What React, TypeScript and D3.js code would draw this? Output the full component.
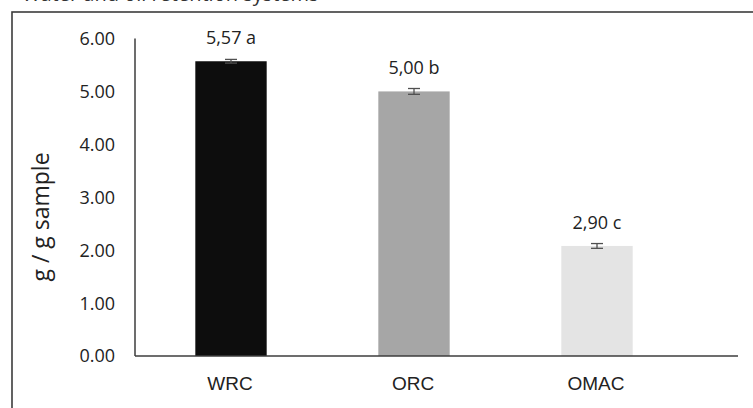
import { useEffect, useRef } from "react";
import * as d3 from "d3";

// values
const categories = ["WRC", "ORC", "OMAC"];
const means = [5.57, 5.0, 2.08];
const errors = [0.035, 0.055, 0.045];
const valueLabels = ["5,57 a", "5,00 b", "2,90 c"];
const barColors = ["#0d0d0d", "#a6a6a6", "#e4e4e4"];
const yTicks = [0, 1, 2, 3, 4, 5, 6];

const W = 753;
const H = 408;

export default function App() {
  const ref = useRef<SVGSVGElement>(null);

  useEffect(() => {
    const svg = d3.select(ref.current);
    if (!svg.node()) return;
    svg.selectAll("*").remove();

    const font = "'Open Sans', 'Noto Sans', sans-serif";
    const axisLeft = 135;
    const axisRight = 738;
    const y0 = 356;
    const yTop = 38.5;

    // frame (only top and left edges are in view)
    svg
      .append("rect")
      .attr("x", 12)
      .attr("y", 12)
      .attr("width", W + 40)
      .attr("height", H + 40)
      .attr("fill", "none")
      .attr("stroke", "#3c3c3c")
      .attr("stroke-width", 1.6);

    // title cut off at the top edge, as in the source image
    svg
      .append("text")
      .attr("x", 22)
      .attr("y", 1)
      .attr("font-family", font)
      .attr("font-size", 20)
      .attr("fill", "#333")
      .text("Water and oil retention systems");

    const x = d3
      .scaleBand<string>()
      .domain(categories)
      .range([139.5, 139.5 + 3 * 183])
      .paddingInner(0.61)
      .paddingOuter(0.305);

    const y = d3.scaleLinear().domain([0, 6]).range([y0, yTop]);

    // y tick labels
    svg
      .append("g")
      .selectAll("text")
      .data(yTicks)
      .join("text")
      .attr("x", 115)
      .attr("y", (d) => y(d))
      .attr("dy", "0.36em")
      .attr("text-anchor", "end")
      .attr("font-family", font)
      .attr("font-size", 18)
      .attr("fill", "#222")
      .text((d) => d3.format(".2f")(d));

    // y axis title
    svg
      .append("text")
      .attr("transform", `translate(49,217) rotate(-90)`)
      .attr("text-anchor", "middle")
      .attr("font-family", font)
      .attr("font-size", 23)
      .attr("fill", "#222")
      .text("g / g sample");

    // bars
    svg
      .append("g")
      .selectAll("rect")
      .data(categories)
      .join("rect")
      .attr("x", (d) => x(d)!)
      .attr("y", (_, i) => y(means[i]))
      .attr("width", x.bandwidth())
      .attr("height", (_, i) => y0 - y(means[i]))
      .attr("fill", (_, i) => barColors[i]);

    // error bars
    const eb = svg
      .append("g")
      .attr("stroke", "#505050")
      .attr("stroke-width", 1.3)
      .selectAll("g")
      .data(categories)
      .join("g")
      .attr("transform", (d) => `translate(${x(d)! + x.bandwidth() / 2},0)`);
    eb.append("line")
      .attr("y1", (_, i) => y(means[i] + errors[i]))
      .attr("y2", (_, i) => y(means[i] - errors[i]));
    eb.append("line")
      .attr("x1", -6)
      .attr("x2", 6)
      .attr("y1", (_, i) => y(means[i] + errors[i]))
      .attr("y2", (_, i) => y(means[i] + errors[i]));
    eb.append("line")
      .attr("x1", -6)
      .attr("x2", 6)
      .attr("y1", (_, i) => y(means[i] - errors[i]))
      .attr("y2", (_, i) => y(means[i] - errors[i]));

    // value labels
    svg
      .append("g")
      .selectAll("text")
      .data(categories)
      .join("text")
      .attr("x", (d) => x(d)! + x.bandwidth() / 2)
      .attr("y", (_, i) => y(means[i]) - 17)
      .attr("text-anchor", "middle")
      .attr("font-family", font)
      .attr("font-size", 18)
      .attr("fill", "#222")
      .text((_, i) => valueLabels[i]);

    // axis lines
    svg
      .append("line")
      .attr("x1", axisLeft)
      .attr("x2", axisLeft)
      .attr("y1", yTop)
      .attr("y2", y0)
      .attr("stroke", "#3c3c3c")
      .attr("stroke-width", 1.5);
    svg
      .append("line")
      .attr("x1", axisLeft)
      .attr("x2", axisRight)
      .attr("y1", y0)
      .attr("y2", y0)
      .attr("stroke", "#3c3c3c")
      .attr("stroke-width", 1.5);

    // category labels
    svg
      .append("g")
      .selectAll("text")
      .data(categories)
      .join("text")
      .attr("x", (d) => x(d)! + x.bandwidth() / 2 - 1)
      .attr("y", 390)
      .attr("text-anchor", "middle")
      .attr("font-family", "'Liberation Sans', Arial, sans-serif")
      .attr("font-size", 19)
      .attr("fill", "#222")
      .text((d) => d);
  }, []);

  return (
    <svg
      ref={ref}
      width={W}
      height={H}
      style={{ position: "absolute", left: 0, top: 0, background: "#fff" }}
    />
  );
}
